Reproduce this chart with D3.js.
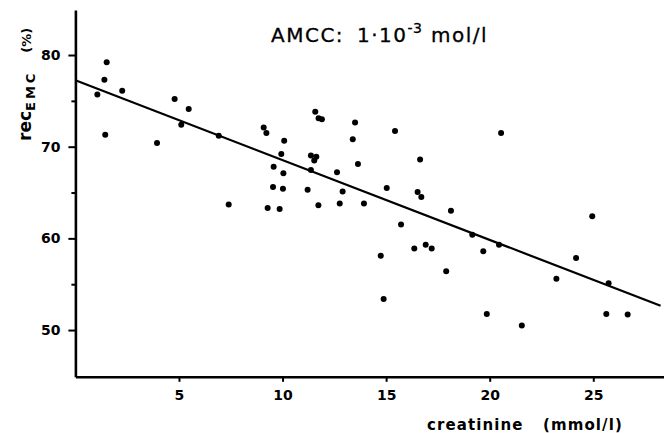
<!DOCTYPE html>
<html>
<head>
<meta charset="utf-8">
<style>
  body { margin: 0; background: white; }
  text { font-family: "DejaVu Sans", sans-serif; fill: black; }
</style>
</head>
<body>
<div id="chart"></div>
<script src="https://d3js.org/d3.v7.min.js"></script>
<script>
// creatinine (mmol/l) and rec EMC (%)
const creatinine = [1.06, 1.40, 1.51, 1.44, 2.26, 3.94, 4.79, 5.47, 5.11, 6.92,
  7.40, 9.09, 9.22, 10.08, 9.94, 9.57, 10.04, 9.54, 10.02, 9.28,
  9.86, 11.37, 11.63, 11.53, 11.37, 11.21, 11.73, 11.58, 11.74, 11.90,
  12.63, 12.90, 12.76, 13.93, 13.50, 13.39, 13.64, 15.43, 16.64, 15.03,
  16.52, 16.70, 18.13, 20.55, 15.72, 14.74, 16.36, 16.91, 17.20, 17.90,
  19.16, 19.69, 20.45, 14.88, 19.86, 21.55, 24.95, 24.17, 23.22, 25.74,
  25.63, 26.66];
const recovery = [75.7, 77.3, 79.2, 71.3, 76.1, 70.4, 75.2, 74.1, 72.4, 71.2,
  63.7, 72.1, 71.5, 70.65, 69.2, 67.8, 67.1, 65.6, 65.4, 63.3,
  63.2, 69.05, 68.9, 68.5, 67.45, 65.3, 63.6, 73.8, 73.1, 73.0,
  67.2, 65.1, 63.8, 63.8, 72.65, 70.8, 68.1, 71.7, 68.6, 65.5,
  65.05, 64.5, 63.0, 71.5, 61.5, 58.1, 58.9, 59.3, 58.9, 56.4,
  60.4, 58.6, 59.3, 53.4, 51.75, 50.5, 62.4, 57.85, 55.6, 55.1,
  51.75, 51.7];

// regression line end points
const fitX = [0, 28.25];
const fitY = [77.25, 52.65];

const xTicks = [5, 10, 15, 20, 25];
const yTicks = [50, 60, 70, 80];
const yMinorTicks = [55, 65, 75];

const width = 664;
const height = 433;

const svg = d3.select('#chart')
  .append('svg')
  .attr('width', width)
  .attr('height', height)
  .style('background-color', 'white');

const xScale = d3.scaleLinear()
  .domain([0, 28.4])
  .range([75.4, 663.7]);

const yScale = d3.scaleLinear()
  .domain([44.9, 84.9])
  .range([376.8, 10.1]);

// axes
const xAxis = d3.axisBottom(xScale)
  .tickValues(xTicks)
  .tickSizeInner(5)
  .tickSizeOuter(0)
  .tickPadding(8)
  .tickFormat(d3.format('d'));

const gx = svg.append('g')
  .attr('transform', `translate(0, ${yScale(44.9)})`)
  .call(xAxis);

const yAxis = d3.axisLeft(yScale)
  .tickValues(yTicks)
  .tickSizeInner(7)
  .tickSizeOuter(0)
  .tickPadding(8)
  .tickFormat(d3.format('d'));

const gy = svg.append('g')
  .attr('transform', `translate(${xScale(0)}, 0)`)
  .call(yAxis);

const yMinor = d3.axisLeft(yScale)
  .tickValues(yMinorTicks)
  .tickSizeInner(4)
  .tickSizeOuter(0)
  .tickFormat('');

const gyMinor = svg.append('g')
  .attr('transform', `translate(${xScale(0)}, 0)`)
  .call(yMinor);
gyMinor.select('.domain').remove();

[gx, gy, gyMinor].forEach(g => {
  g.select('.domain').attr('stroke', 'black').attr('stroke-width', 2.6);
  g.selectAll('.tick line').attr('stroke', 'black').attr('stroke-width', 2);
  g.selectAll('.tick text')
    .attr('font-family', '"DejaVu Sans", sans-serif')
    .attr('font-size', 14)
    .attr('font-weight', 'bold')
    .attr('fill', 'black');
});

// regression line
svg.append('line')
  .attr('x1', xScale(fitX[0]))
  .attr('y1', yScale(fitY[0]))
  .attr('x2', xScale(fitX[1]))
  .attr('y2', yScale(fitY[1]))
  .attr('stroke', 'black')
  .attr('stroke-width', 2.2);

// points
svg.append('g')
  .selectAll('circle')
  .data(creatinine)
  .enter()
  .append('circle')
  .attr('cx', d => xScale(d))
  .attr('cy', (d, i) => yScale(recovery[i]))
  .attr('r', 3)
  .attr('fill', 'black');

// title
const title = svg.append('text')
  .attr('x', 271)
  .attr('y', 42)
  .attr('font-size', 20)
  .attr('letter-spacing', 1.5)
  .style('stroke', 'black')
  .style('stroke-width', 0.3);
title.append('tspan').text('AMCC:');
title.append('tspan').attr('x', 357).text('1·10');
title.append('tspan').attr('dy', -9).attr('font-size', 14).attr('letter-spacing', 0.5).text('-3');
title.append('tspan').attr('dy', 9).attr('x', 431).text('mol/l');

// x label
const xLabel = svg.append('text')
  .attr('x', 427)
  .attr('y', 430)
  .attr('font-size', 15)
  .attr('font-weight', 'bold')
  .attr('letter-spacing', 1.1);
xLabel.append('tspan').text('creatinine');
xLabel.append('tspan').attr('x', 543).text('(mmol/l)');

// y label
const yLabel = svg.append('text')
  .attr('transform', 'translate(31, 141) rotate(-90)')
  .attr('font-size', 17)
  .attr('font-weight', 'bold');
yLabel.append('tspan').text('rec');
yLabel.append('tspan').attr('dy', 4).attr('font-size', 13).attr('letter-spacing', 3).text('EMC');
yLabel.append('tspan').attr('dy', -4).attr('dx', 18).attr('font-size', 13).text('(%)');
</script>
</body>
</html>
